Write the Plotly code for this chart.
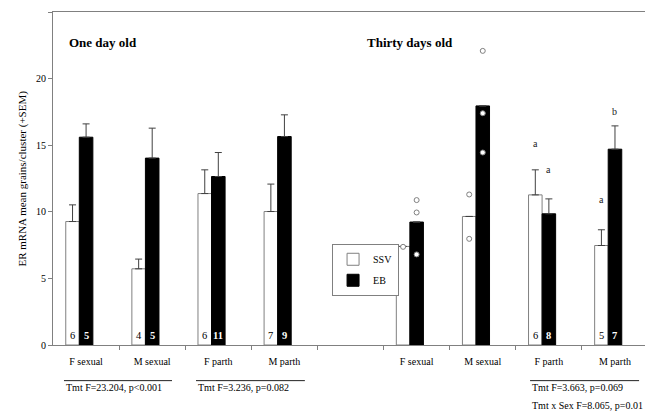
import plotly.graph_objects as go

# ---------------- data ----------------
categories = ["F sexual", "M sexual", "F parth", "M parth", "",
              "F sexual", "M sexual", "F parth", "M parth"]
ssv = [9.27, 5.72, 11.37, 10.02, None, 7.4, 9.65, 11.27, 7.47]
ssv_sem = [1.25, 0.73, 1.78, 2.06, None, None, None, 1.88, 1.18]
eb = [15.6, 14.03, 12.65, 15.65, None, 9.23, 17.95, 9.85, 14.7]
eb_sem = [1.0, 2.25, 1.8, 1.63, None, None, None, 1.12, 1.75]
ssv_n = ["6", "4", "6", "7", "", "", "", "6", "5"]
eb_n = ["5", "5", "11", "9", "", "", "", "8", "7"]

# individual animals (thirty days, sexual groups): (category index, value)
ssv_points_idx = [5, 6, 6]
ssv_points_val = [7.37, 11.3, 7.97]
eb_points_idx = [5, 5, 5, 6, 6, 6]
eb_points_val = [10.88, 9.95, 6.8, 22.08, 17.4, 14.45]

# significance letters: (category index, series, letter, y)
letter_idx = [7, 7, 8, 8]
letter_series = ["SSV", "EB", "SSV", "EB"]
letter_txt = ["a", "a", "a", "b"]
letter_y = [15.1, 13.2, 10.9, 17.5]

stats_texts = ["Tmt F=23.204, p<0.001", "Tmt F=3.236, p=0.082",
               "Tmt F=3.663, p=0.069", "Tmt x Sex F=8.065, p=0.01"]

# ---------------- style ----------------
FONT = "Liberation Serif, Times New Roman, serif"
GRAY = "#808080"
BW = 0.205                 # bar width (category units)
OFF = {"SSV": -0.307, "EB": -0.102}
CEN = {k: v + BW / 2 for k, v in OFF.items()}
xs = list(range(len(categories)))

fig = go.Figure()

def err(vals):
    return dict(type="data", symmetric=False, array=vals,
                arrayminus=[0 if v is not None else None for v in vals],
                color="#404040", thickness=1, width=3.5)

fig.add_trace(go.Bar(
    x=xs, y=ssv, name="SSV", width=BW, offset=OFF["SSV"],
    marker=dict(color="white", line=dict(color=GRAY, width=1)),
    error_y=err(ssv_sem), legendgroup="a"))
fig.add_trace(go.Bar(
    x=xs, y=eb, name="EB", width=BW, offset=OFF["EB"],
    marker=dict(color="black", line=dict(color="black", width=1)),
    error_y=err(eb_sem), legendgroup="b"))

pt_marker = dict(color="white", size=5, line=dict(color=GRAY, width=1))
fig.add_trace(go.Scatter(
    x=[i + CEN["SSV"] for i in ssv_points_idx], y=ssv_points_val,
    mode="markers", marker=pt_marker, showlegend=False, hoverinfo="skip"))
fig.add_trace(go.Scatter(
    x=[i + CEN["EB"] for i in eb_points_idx], y=eb_points_val,
    mode="markers", marker=pt_marker, showlegend=False, hoverinfo="skip"))

ann = []
# sample sizes at bar bases
for i in xs:
    if ssv_n[i]:
        ann.append(dict(x=i + CEN["SSV"], y=0, text=ssv_n[i], showarrow=False,
                        yanchor="bottom", yshift=2,
                        font=dict(family=FONT, size=10.5, color="black")))
    if eb_n[i]:
        ann.append(dict(x=i + CEN["EB"], y=0, text="<b>" + eb_n[i] + "</b>",
                        showarrow=False, yanchor="bottom", yshift=2,
                        font=dict(family=FONT, size=10.5, color="white")))
# letters
for i, s, t, y in zip(letter_idx, letter_series, letter_txt, letter_y):
    ann.append(dict(x=i + CEN[s], y=y, text=t, showarrow=False,
                    font=dict(family=FONT, size=10, color="#222222")))
# panel titles
ann.append(dict(x=0.0235, y=0.938, xref="paper", yref="paper", xanchor="left",
                text="<b>One day old</b>", showarrow=False,
                font=dict(family=FONT, size=13, color="black")))
ann.append(dict(x=0.524, y=0.938, xref="paper", yref="paper", xanchor="left",
                text="<b>Thirty days old</b>", showarrow=False,
                font=dict(family=FONT, size=13, color="black")))
# y title
ann.append(dict(x=-0.052, y=0.5, xref="paper", yref="paper", textangle=-90,
                xanchor="center", yanchor="middle",
                text="ER mRNA mean grains/cluster (+SEM)", showarrow=False,
                font=dict(family=FONT, size=11, color="black")))

# statistics below groups
stat_x = [-0.334, 1.663, 6.716, 6.716]
stat_y = [-0.149, -0.149, -0.149, -0.203]
for x, y, t in zip(stat_x, stat_y, stats_texts):
    ann.append(dict(x=x, y=y, xref="x", yref="paper", xanchor="left",
                    text=t, showarrow=False,
                    font=dict(family=FONT, size=10, color="black")))

shapes = []
for x0, x1 in [(-0.334, 1.30), (1.663, 3.31), (6.716, 8.365)]:
    shapes.append(dict(type="line", xref="x", yref="paper", x0=x0, x1=x1,
                       y0=-0.107, y1=-0.107, line=dict(color="#222", width=1)))

fig.update_layout(
    width=645, height=411,
    margin=dict(l=45, r=5, t=4, b=74),
    paper_bgcolor="white", plot_bgcolor="white",
    barmode="overlay",
    font=dict(family=FONT, size=10, color="black"),
    annotations=ann, shapes=shapes,
    legend=dict(x=0.469, y=0.304, xanchor="left", yanchor="top",
                bordercolor=GRAY, borderwidth=1, bgcolor="white",
                font=dict(family=FONT, size=10), itemwidth=30,
                tracegroupgap=2, traceorder="grouped"),
    xaxis=dict(range=[-0.5, 8.5], tickvals=xs, ticktext=categories,
               ticks="", showgrid=False, zeroline=False,
               showline=True, linecolor=GRAY, linewidth=1, mirror=True,
               ticklabelstandoff=7,
               tickfont=dict(family=FONT, size=10),
               minor=dict(tickvals=[i + 0.5 for i in xs[:-1]], ticks="outside",
                          ticklen=4, tickcolor=GRAY, showgrid=False)),
    yaxis=dict(range=[0, 25], tickvals=[0, 5, 10, 15, 20, 25],
               ticks="outside", ticklen=4, tickcolor=GRAY,
               showgrid=False, zeroline=False,
               showline=True, linecolor=GRAY, linewidth=1, mirror=True,
               tickfont=dict(family=FONT, size=10)),
)

fig.write_html("out.html")
